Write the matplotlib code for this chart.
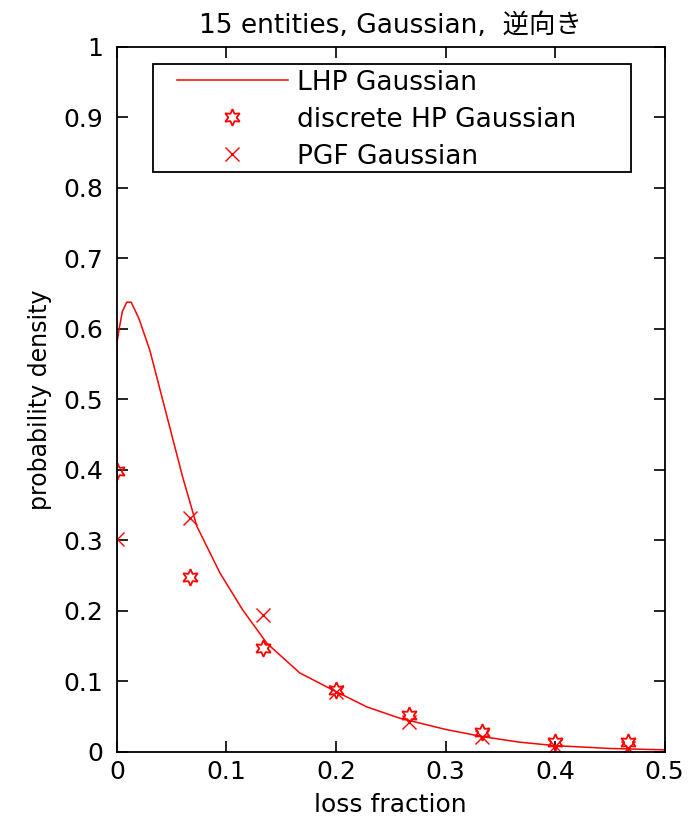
"""
15 entities, Gaussian - LHP vs discrete HP vs PGF
"""
import matplotlib.pyplot as plt
from matplotlib.patches import Rectangle

plt.rcParams['font.family'] = ['DejaVu Sans', 'Noto Sans CJK JP']

# LHP Gaussian 曲线
lhp_x = [0, 0, 0.002, 0.005, 0.009, 0.013, 0.02, 0.03, 0.045, 0.06, 0.073,
         0.094, 0.115, 0.137, 0.167, 0.197, 0.228, 0.258, 0.3, 0.333, 0.367,
         0.4, 0.45, 0.5]
lhp_y = [0, 0.58, 0.6, 0.625, 0.638, 0.638, 0.615, 0.57, 0.48, 0.39, 0.32,
         0.254, 0.201, 0.154, 0.112, 0.088, 0.064, 0.048, 0.032, 0.022, 0.014,
         0.009, 0.005, 0.003]

# 离散点 x = k/15
pts_x = [0, 1/15, 2/15, 3/15, 4/15, 5/15, 6/15, 7/15]
hp_y = [0.398, 0.248, 0.147, 0.088, 0.052, 0.029, 0.014, 0.014]
pgf_y = [0.302, 0.332, 0.194, 0.085, 0.042, 0.021, 0.008, 0.006]

fig = plt.figure(figsize=(6.96, 8.24), dpi=100)
ax = fig.add_axes([0.168, 0.0874, 0.787, 0.8556])

ax.plot(lhp_x, lhp_y, color='red', linewidth=1.1, label='LHP Gaussian')
ax.plot(pts_x, hp_y, linestyle='none', marker=(6, 1, 0), markersize=12,
        markerfacecolor='none', markeredgecolor='red', markeredgewidth=1.3,
        label='discrete HP Gaussian')
ax.plot(pts_x, pgf_y, linestyle='none', marker='x', markersize=10,
        color='red', markeredgewidth=1.0, label='PGF Gaussian')

ax.set_xlim(0, 0.5)
ax.set_ylim(0, 1)
ax.set_xticks([0, 0.1, 0.2, 0.3, 0.4, 0.5])
ax.set_xticklabels(['0', '0.1', '0.2', '0.3', '0.4', '0.5'])
ax.set_yticks([i / 10 for i in range(11)])
ax.set_yticklabels(['0', '0.1', '0.2', '0.3', '0.4', '0.5', '0.6', '0.7',
                    '0.8', '0.9', '1'])
ax.tick_params(direction='in', length=8, width=1.2, top=True, right=True,
               labelsize=18)
ax.tick_params(axis='x', pad=6)
ax.tick_params(axis='y', pad=10)
for s in ax.spines.values():
    s.set_linewidth(1.3)

ax.set_xlabel('loss fraction', fontsize=18, labelpad=6)
ax.set_ylabel('probability density', fontsize=17, labelpad=8)
ax.set_title('15 entities, Gaussian,  逆向き', fontsize=19, pad=10)

# 图例: 无边框 + 手动边框
leg = ax.legend(loc='upper left', bbox_to_anchor=(0.1095, 0.968),
                fontsize=19, frameon=False, handlelength=4.2,
                borderaxespad=0, borderpad=0, labelspacing=0.42,
                handletextpad=0.35)
ax.add_patch(Rectangle((0.066, 0.823), 0.872, 0.153, transform=ax.transAxes,
                       fill=False, edgecolor='black', linewidth=1.3,
                       zorder=5))

plt.savefig('out.png', dpi=100)
